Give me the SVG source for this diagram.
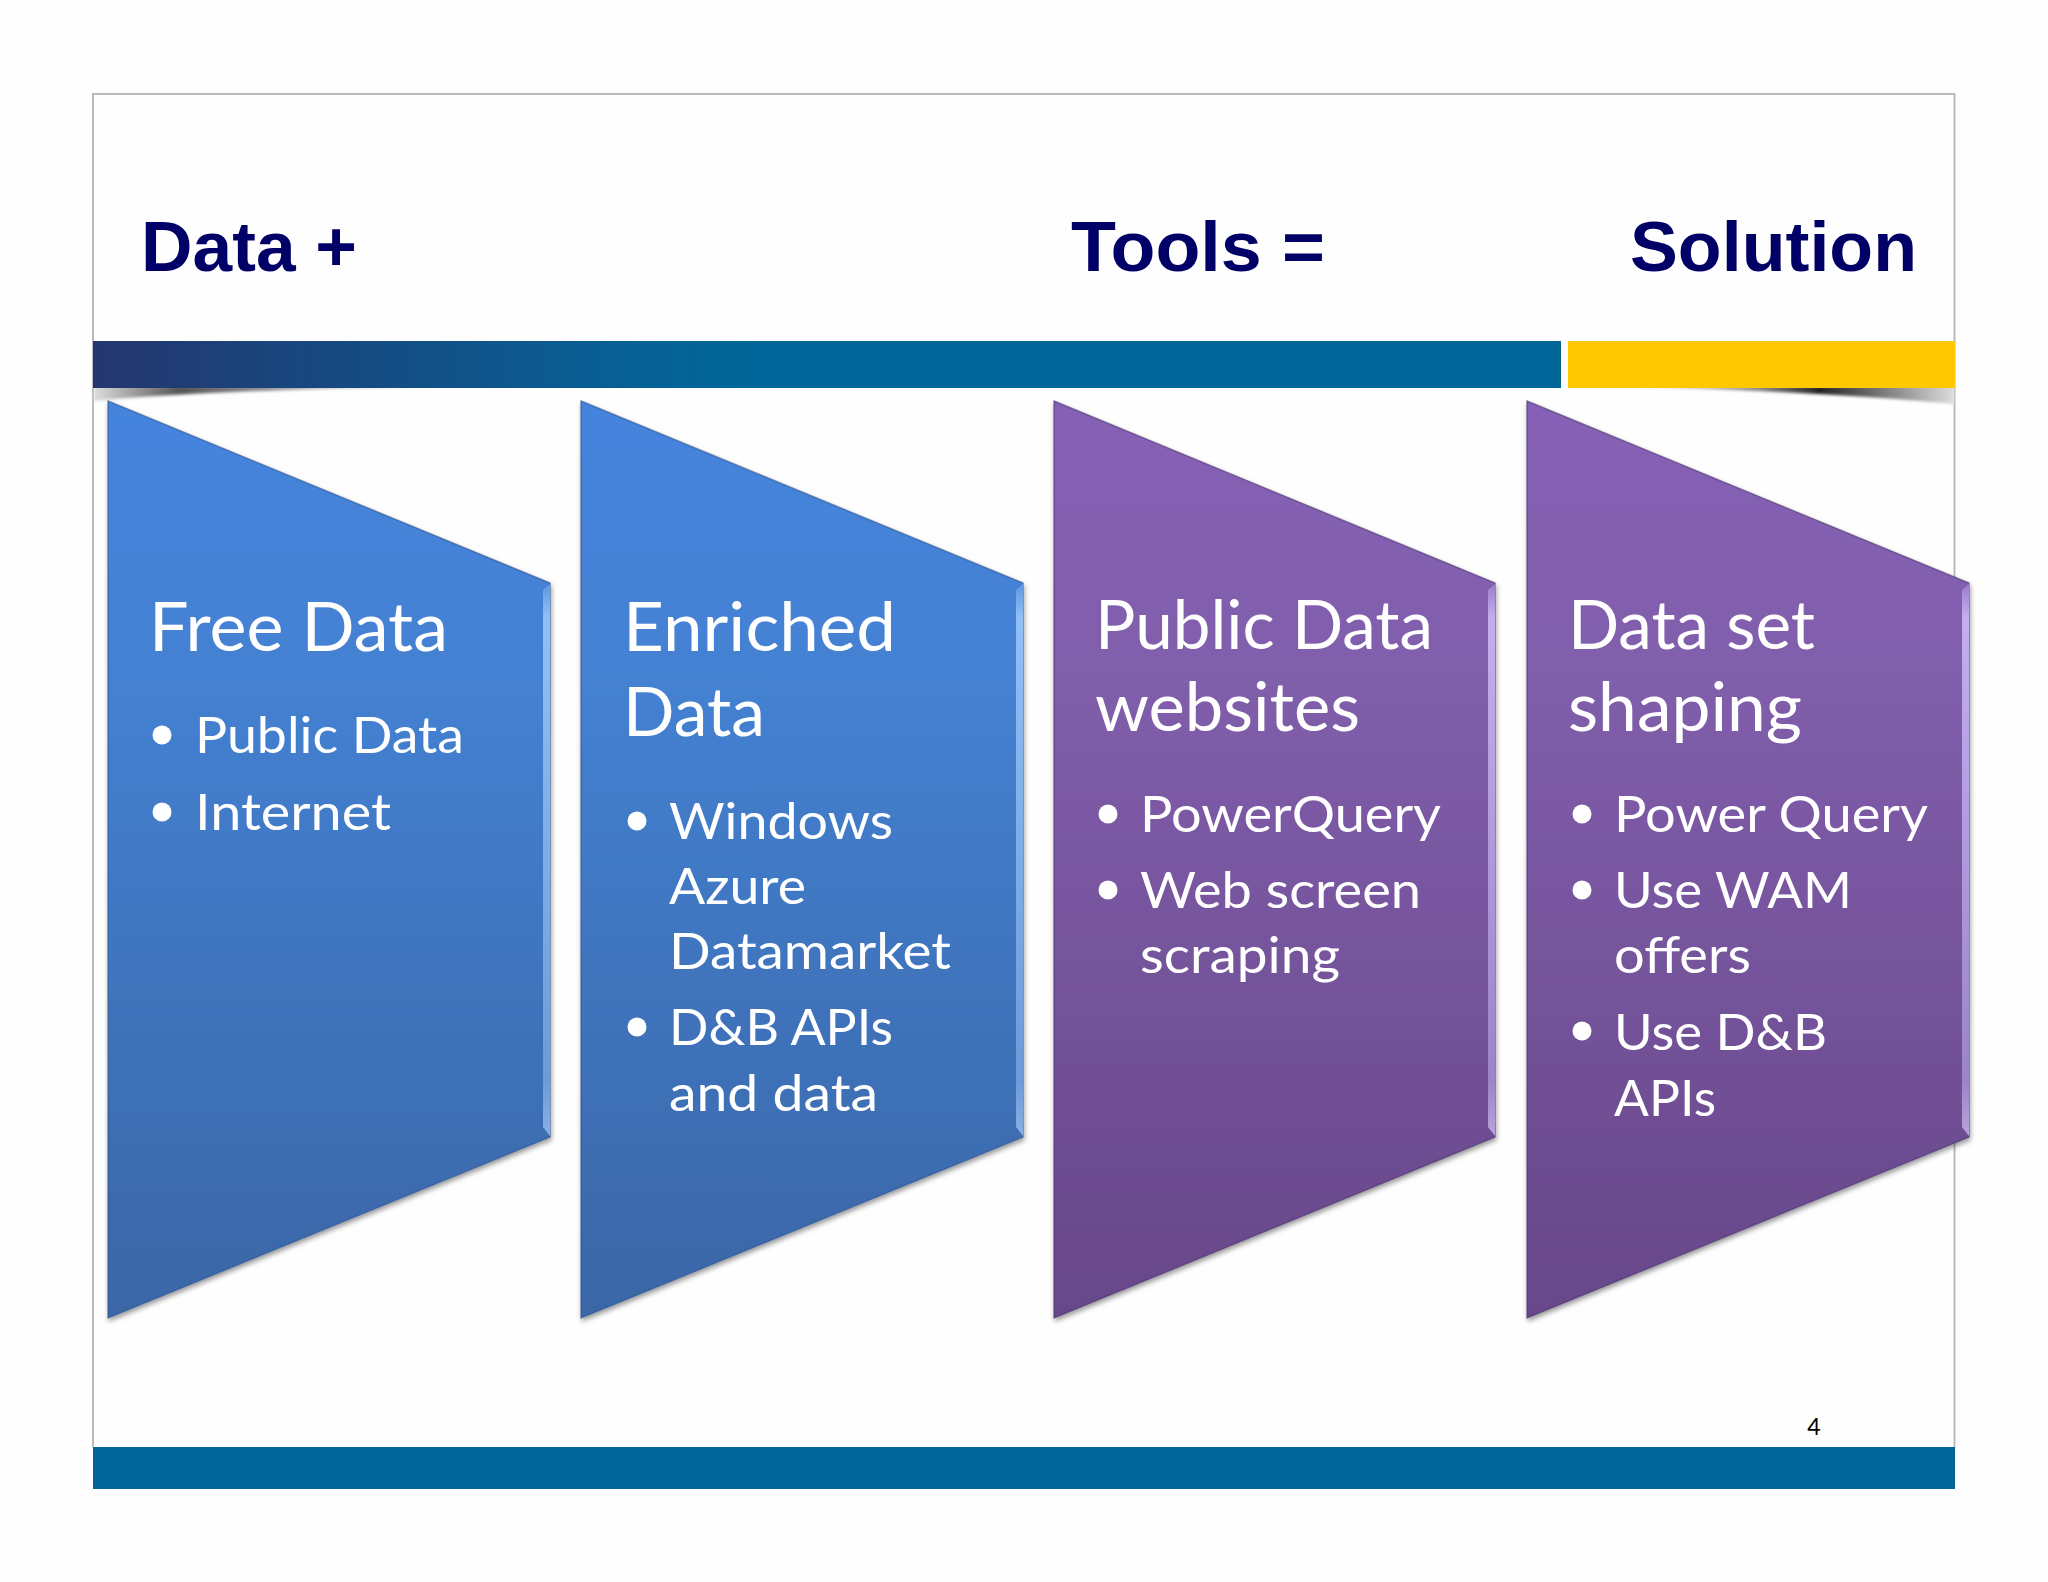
<svg xmlns="http://www.w3.org/2000/svg" width="2048" height="1582" viewBox="0 0 2048 1582">
<style>
.t{font-family:"Liberation Sans",Arial,sans-serif;font-weight:700;font-size:71px;fill:#000066}
.h{font-family:Lato,"Open Sans",sans-serif;font-size:68px;fill:#fff}
.b{font-family:Lato,"Open Sans",sans-serif;font-size:51px;fill:#fff}
.n{font-family:Lato,"Open Sans",sans-serif;font-size:23px;fill:#000}
.blue{fill:url(#gb);stroke:#2f5590;stroke-opacity:.6;stroke-width:1.5}
.pur{fill:url(#gp);stroke:#4d3570;stroke-opacity:.6;stroke-width:1.5}
.sb{fill:url(#sb)}
.sp{fill:url(#sp)}
.dot{fill:#fff}
</style>
<defs>
<linearGradient id="gb" x1="0" y1="0" x2="0" y2="1"><stop offset="0" stop-color="#4584de"/><stop offset=".3" stop-color="#4481d2"/><stop offset="1" stop-color="#3a66a6"/></linearGradient>
<linearGradient id="gp" x1="0" y1="0" x2="0" y2="1"><stop offset="0" stop-color="#8661b6"/><stop offset=".3" stop-color="#805eab"/><stop offset="1" stop-color="#674789"/></linearGradient>
<linearGradient id="sb" x1="0" y1="0" x2="0" y2="1"><stop offset="0" stop-color="#5f98e0"/><stop offset=".06" stop-color="#8fc0f6"/><stop offset=".9" stop-color="#6d9bd8"/><stop offset="1" stop-color="#8ab0e4"/></linearGradient>
<linearGradient id="sp" x1="0" y1="0" x2="0" y2="1"><stop offset="0" stop-color="#9a7ccc"/><stop offset=".06" stop-color="#c4aef0"/><stop offset=".9" stop-color="#9c84c8"/><stop offset="1" stop-color="#b8a4dc"/></linearGradient>
<linearGradient id="bar" x1="0" y1="0" x2="1" y2="0"><stop offset="0" stop-color="#24366f"/><stop offset=".36" stop-color="#076095"/><stop offset=".45" stop-color="#006699"/><stop offset="1" stop-color="#006699"/></linearGradient>
<linearGradient id="sl" x1="0" y1="0" x2="1" y2="0"><stop offset="0" stop-color="#ddd"/><stop offset=".22" stop-color="#555"/><stop offset=".55" stop-color="#aaa"/><stop offset="1" stop-color="#fff"/></linearGradient>
<linearGradient id="sr" x1="0" y1="0" x2="1" y2="0"><stop offset="0" stop-color="#fff"/><stop offset=".45" stop-color="#888"/><stop offset=".62" stop-color="#222"/><stop offset="1" stop-color="#ddd"/></linearGradient>
<filter id="sh" x="-5%" y="-5%" width="110%" height="110%"><feDropShadow dx="1" dy="3" stdDeviation="2.5" flood-color="#000" flood-opacity=".4"/></filter>
<filter id="bl" x="-5%" y="-100%" width="110%" height="300%"><feGaussianBlur stdDeviation="1.800"/></filter>
</defs>
<rect width="2048" height="1582" fill="#fefefe"/>
<g id="frame">
<path d="M93 1447V94H1954.500V1447" fill="none" stroke="#bbb" stroke-width="2"/>
<path filter="url(#bl)" d="M94 386H480Q200 390 94 401Z" fill="url(#sl)"/>
<path filter="url(#bl)" d="M1954 386H1600Q1820 391 1954 404Z" fill="url(#sr)"/>
<rect x="93" y="341" width="1468" height="47" fill="url(#bar)"/>
<rect x="1568" y="341" width="387" height="47" fill="#ffc800"/>
<rect x="93" y="1447" width="1862" height="42" fill="#006699"/>
</g>
<g id="titles">
<text class="t" x="141" y="271" textLength="216" lengthAdjust="spacingAndGlyphs">Data +</text>
<text class="t" x="1071" y="271" textLength="254" lengthAdjust="spacingAndGlyphs">Tools =</text>
<text class="t" x="1630" y="271" textLength="287" lengthAdjust="spacingAndGlyphs">Solution</text>
</g>
<g id="node-free-data">
<polygon class="blue" filter="url(#sh)" points="108,401 550,583 550,1137 108,1318"/>
<polygon class="sb" points="550,584 550,1136 543,1127 543,590"/>
<text class="h" x="149" y="651" textLength="299" lengthAdjust="spacingAndGlyphs">Free Data</text>
<circle class="dot" cx="162" cy="735" r="9.500"/>
<text class="b" x="195" y="753" textLength="269" lengthAdjust="spacingAndGlyphs">Public Data</text>
<circle class="dot" cx="162" cy="812" r="9.500"/>
<text class="b" x="195" y="830" textLength="196" lengthAdjust="spacingAndGlyphs">Internet</text>
</g>
<g id="node-enriched-data">
<polygon class="blue" filter="url(#sh)" points="581,401 1023,583 1023,1137 581,1318"/>
<polygon class="sb" points="1023,584 1023,1136 1016,1127 1016,590"/>
<text class="h" x="623" y="651" textLength="273" lengthAdjust="spacingAndGlyphs">Enriched</text>
<text class="h" x="623" y="736" textLength="142" lengthAdjust="spacingAndGlyphs">Data</text>
<circle class="dot" cx="637" cy="821" r="9.500"/>
<text class="b" x="669" y="839" textLength="224" lengthAdjust="spacingAndGlyphs">Windows</text>
<text class="b" x="669" y="904" textLength="137" lengthAdjust="spacingAndGlyphs">Azure</text>
<text class="b" x="669" y="969" textLength="282" lengthAdjust="spacingAndGlyphs">Datamarket</text>
<circle class="dot" cx="637" cy="1027" r="9.500"/>
<text class="b" x="669" y="1045" textLength="224" lengthAdjust="spacingAndGlyphs">D&amp;B APIs</text>
<text class="b" x="669" y="1111" textLength="209" lengthAdjust="spacingAndGlyphs">and data</text>
</g>
<g id="node-public-data-websites">
<polygon class="pur" filter="url(#sh)" points="1054,401 1495,583 1495,1137 1054,1318"/>
<polygon class="sp" points="1495,584 1495,1136 1488,1127 1488,590"/>
<text class="h" x="1095" y="649" textLength="338" lengthAdjust="spacingAndGlyphs">Public Data</text>
<text class="h" x="1095" y="731" textLength="265" lengthAdjust="spacingAndGlyphs">websites</text>
<circle class="dot" cx="1108" cy="814" r="9.500"/>
<text class="b" x="1140" y="832" textLength="301" lengthAdjust="spacingAndGlyphs">PowerQuery</text>
<circle class="dot" cx="1108" cy="890" r="9.500"/>
<text class="b" x="1140" y="908" textLength="281" lengthAdjust="spacingAndGlyphs">Web screen</text>
<text class="b" x="1140" y="973" textLength="200" lengthAdjust="spacingAndGlyphs">scraping</text>
</g>
<g id="node-data-set-shaping">
<polygon class="pur" filter="url(#sh)" points="1527,401 1969,583 1969,1137 1527,1318"/>
<polygon class="sp" points="1969,584 1969,1136 1962,1127 1962,590"/>
<text class="h" x="1568" y="649" textLength="247" lengthAdjust="spacingAndGlyphs">Data set</text>
<text class="h" x="1568" y="731" textLength="234" lengthAdjust="spacingAndGlyphs">shaping</text>
<circle class="dot" cx="1582" cy="814" r="9.500"/>
<text class="b" x="1614" y="832" textLength="314" lengthAdjust="spacingAndGlyphs">Power Query</text>
<circle class="dot" cx="1582" cy="890" r="9.500"/>
<text class="b" x="1614" y="908" textLength="238" lengthAdjust="spacingAndGlyphs">Use WAM</text>
<text class="b" x="1614" y="973" textLength="137" lengthAdjust="spacingAndGlyphs">offers</text>
<circle class="dot" cx="1582" cy="1031" r="9.500"/>
<text class="b" x="1614" y="1050" textLength="213" lengthAdjust="spacingAndGlyphs">Use D&amp;B</text>
<text class="b" x="1614" y="1116" textLength="102" lengthAdjust="spacingAndGlyphs">APIs</text>
</g>
<g id="page-number"><text class="n" x="1814" y="1435" text-anchor="middle">4</text></g>
<g id="connectors"/>
</svg>
